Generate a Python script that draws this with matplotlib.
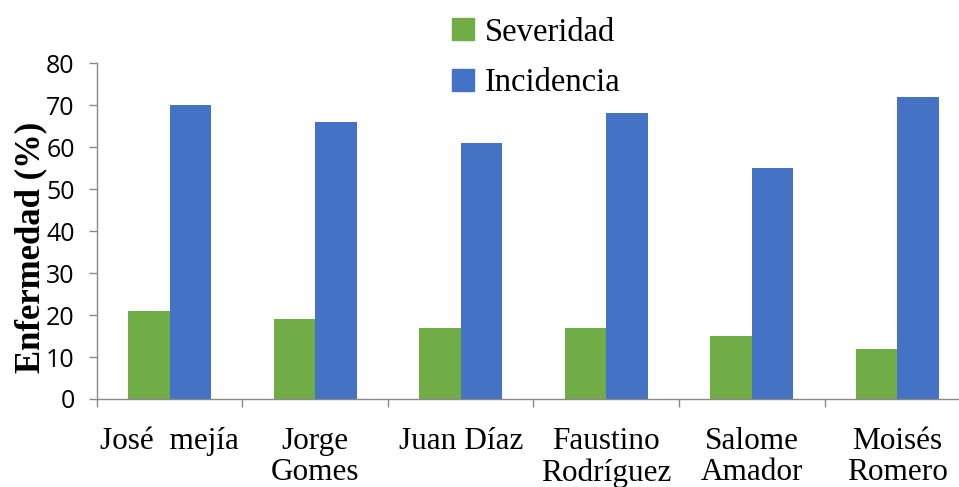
import numpy as np
import matplotlib
matplotlib.use("Agg")
import matplotlib.pyplot as plt
from matplotlib.patches import Patch

# farm names and disease values (%)
fincas = ["José  mejía", "Jorge\nGomes", "Juan Díaz", "Faustino\nRodríguez",
          "Salome\nAmador", "Moisés\nRomero"]
severidad = [21, 19, 17, 17, 15, 12]
incidencia = [70, 66, 61, 68, 55, 72]

verde = "#70AD47"
azul = "#4472C4"
gris = "#898989"

fig = plt.figure(figsize=(9.59, 4.87), dpi=100)
ax = fig.add_axes([0.1011, 0.1807, 0.9104, 0.6899])

x = np.arange(len(fincas))
w = 0.285
ax.bar(x - w / 2, severidad, w, color=verde)
ax.bar(x + w / 2, incidencia, w, color=azul)

ax.set_xlim(-0.5, len(fincas) - 0.5)
ax.set_ylim(0, 80)
ax.set_yticks(range(0, 81, 10))

# boundary ticks between groups, labels centred on each group
ax.set_xticks(np.arange(len(fincas) + 1) - 0.5)
ax.set_xticklabels([])
ax.set_xticks(x, minor=True)
ax.set_xticklabels(fincas, minor=True, family="Liberation Serif", fontsize=22.5,
                   linespacing=1.12)
ax.tick_params(axis="x", which="minor", length=0, pad=20)
ax.tick_params(axis="x", which="major", length=6, color=gris, width=1)
ax.tick_params(axis="y", length=6, color=gris, width=1, pad=10, labelsize=18)
for lab in ax.get_yticklabels():
    lab.set_family("Open Sans")

for s in ["top", "right"]:
    ax.spines[s].set_visible(False)
for s in ["left", "bottom"]:
    ax.spines[s].set_color(gris)
    ax.spines[s].set_linewidth(1)

ax.set_ylabel("Enfermedad (%)", family="Liberation Serif", fontweight="bold",
              fontsize=25)
ax.yaxis.set_label_coords(-0.057, 0.45)

handles = [Patch(color=verde, label="Severidad"), Patch(color=azul, label="Incidencia")]
fig.legend(handles=handles, loc="upper left", bbox_to_anchor=(0.441, 1.025),
           frameon=False, prop={"family": "Liberation Serif", "size": 23.5},
           handlelength=0.65, handleheight=0.65, handletextpad=0.35, labelspacing=0.62)

fig.savefig("out.png", dpi=100)
